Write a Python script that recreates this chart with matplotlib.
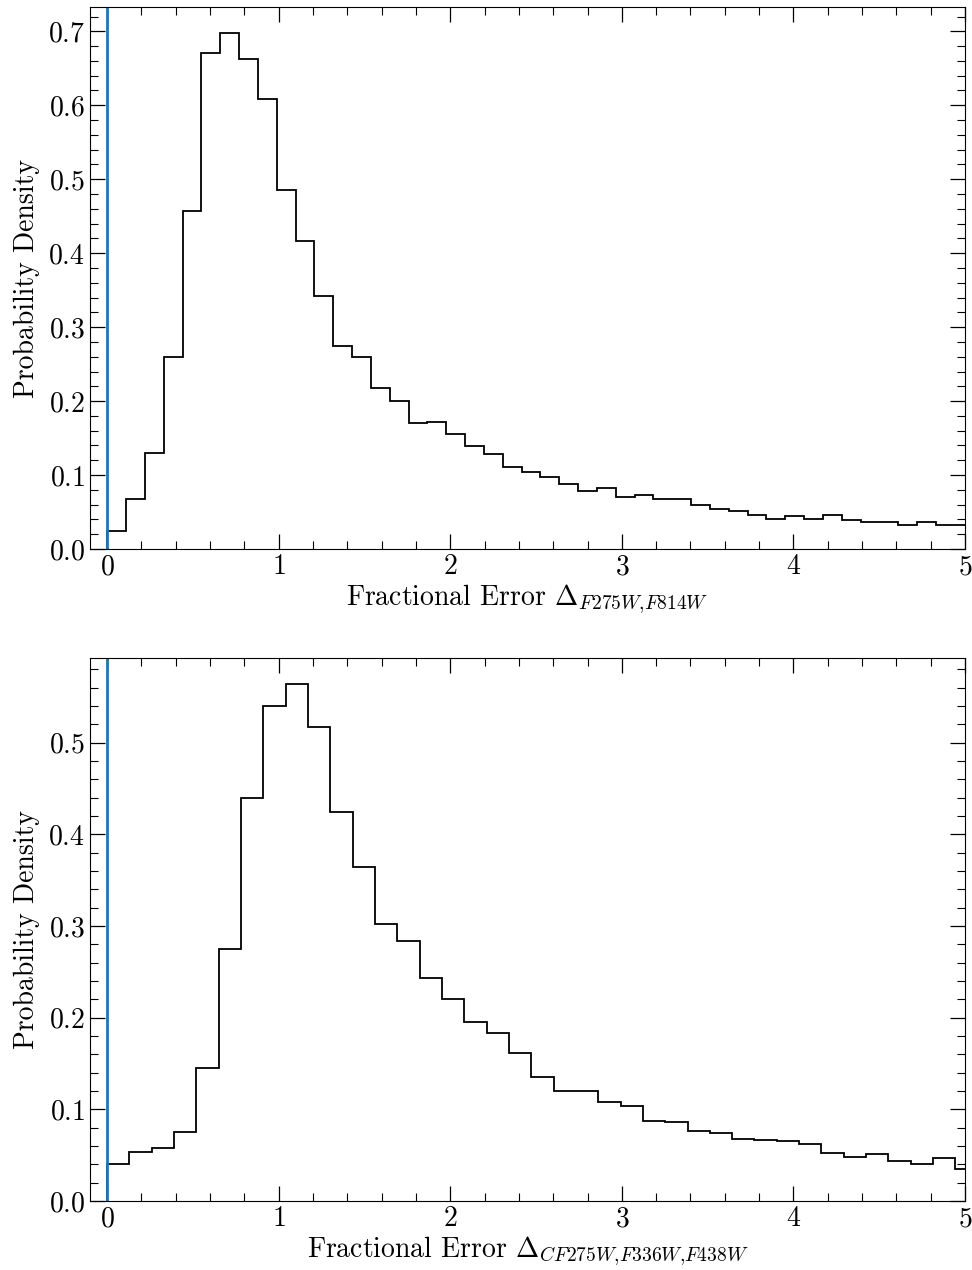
import numpy as np
import matplotlib
matplotlib.use("Agg")
import matplotlib.pyplot as plt
from matplotlib.ticker import MultipleLocator, AutoMinorLocator

# ---- data ----
top_bin_width = 0.1098
top_density = [0.024, 0.067, 0.130, 0.259, 0.457, 0.671, 0.698, 0.663, 0.608, 0.485,
               0.417, 0.342, 0.275, 0.259, 0.218, 0.200, 0.171, 0.172, 0.155, 0.139,
               0.128, 0.111, 0.104, 0.098, 0.088, 0.078, 0.082, 0.070, 0.073, 0.067,
               0.067, 0.059, 0.054, 0.051, 0.046, 0.041, 0.045, 0.041, 0.046, 0.039,
               0.037, 0.037, 0.032, 0.037, 0.033, 0.032]

bot_bin_width = 0.1301
bot_density = [0.040, 0.053, 0.058, 0.075, 0.145, 0.275, 0.440, 0.540, 0.564, 0.517,
               0.424, 0.364, 0.302, 0.284, 0.243, 0.220, 0.195, 0.183, 0.161, 0.135,
               0.120, 0.120, 0.108, 0.104, 0.087, 0.086, 0.076, 0.074, 0.068, 0.067,
               0.065, 0.062, 0.052, 0.048, 0.051, 0.044, 0.040, 0.047, 0.035]

ref_value = 0.0
xlabels = [r"Fractional Error $\Delta_{F275W{,}F814W}$",
           r"Fractional Error $\Delta_{CF275W{,}F336W{,}F438W}$"]
ylabel = "Probability Density"

plt.rcParams["font.family"] = "cmr10"
plt.rcParams["mathtext.fontset"] = "cm"
plt.rcParams["axes.formatter.use_mathtext"] = True
plt.rcParams["font.size"] = 20

fig = plt.figure(figsize=(9.72, 12.70), dpi=100)
W, H = 972.0, 1270.0
ax1 = fig.add_axes([90 / W, 1 - 549 / H, 875 / W, 542 / H])
ax2 = fig.add_axes([90 / W, 1 - 1201 / H, 875 / W, 543 / H])

panels = [(ax1, top_density, top_bin_width), (ax2, bot_density, bot_bin_width)]
for i, (ax, dens, bw) in enumerate(panels):
    edges = np.arange(len(dens) + 1) * bw
    ax.stairs(dens, edges, color="black", linewidth=1.3)
    ax.axvline(ref_value, color="#1f77b4", linewidth=2.0)
    ax.set_xlim(-0.1, 5)
    ax.set_ylim(0, max(dens) * 1.05)
    ax.xaxis.set_major_locator(MultipleLocator(1))
    ax.xaxis.set_minor_locator(AutoMinorLocator(5))
    ax.yaxis.set_major_locator(MultipleLocator(0.1))
    ax.yaxis.set_minor_locator(AutoMinorLocator(5))
    ax.tick_params(which="both", direction="in", top=True, right=True, labelsize=20)
    ax.tick_params(which="major", length=11, width=0.9)
    ax.tick_params(which="minor", length=5.5, width=0.8)
    ax.set_xlabel(xlabels[i], fontsize=20, labelpad=2)
    ax.set_ylabel(ylabel, fontsize=20, labelpad=6)

fig.savefig("out.png", dpi=100)
